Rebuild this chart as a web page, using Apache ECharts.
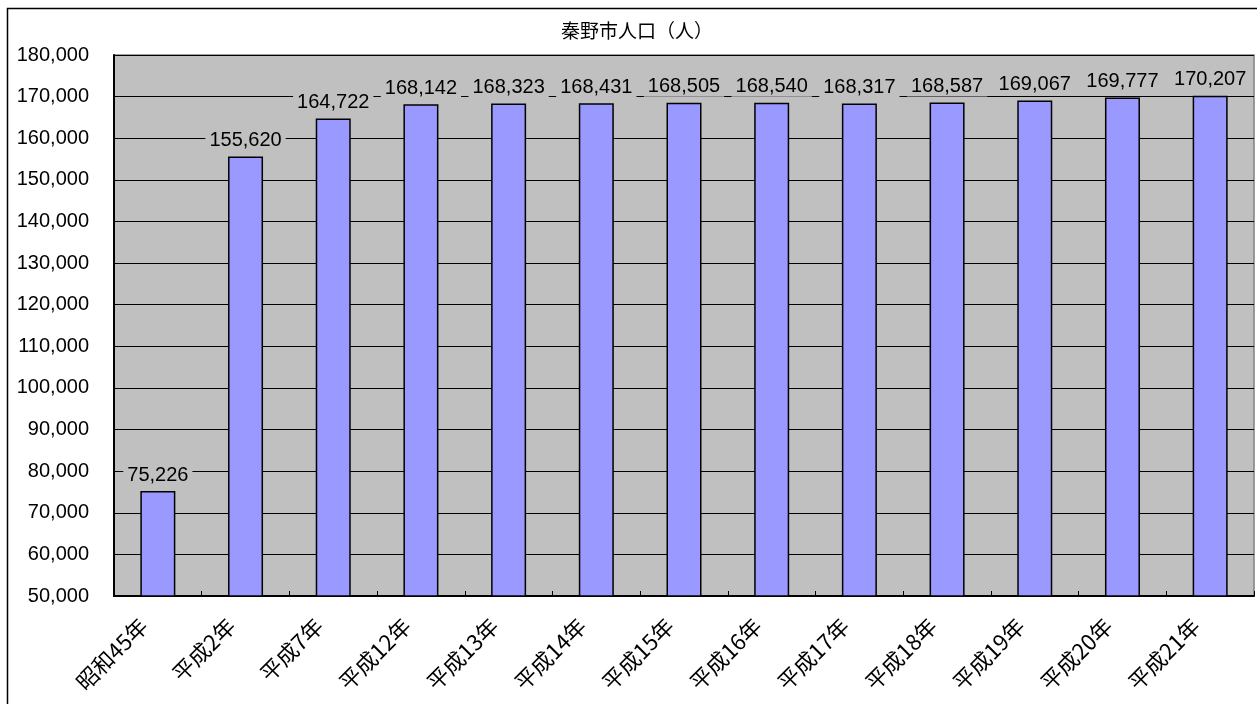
<!DOCTYPE html>
<html>
<head>
<meta charset="utf-8">
<script src="https://cdn.jsdelivr.net/npm/echarts@6/dist/echarts.min.js"></script>
<style>
  html, body { margin: 0; padding: 0; background: #fff; }
  #chart { width: 1257px; height: 704px; }
</style>
</head>
<body>
<div id="chart"></div>
<script>
// 年次
const categories = ['昭和45年', '平成2年', '平成7年', '平成12年', '平成13年', '平成14年', '平成15年',
  '平成16年', '平成17年', '平成18年', '平成19年', '平成20年', '平成21年']
// 人口（人）
const population = [75226, 155620, 164722, 168142, 168323, 168431, 168505,
  168540, 168317, 168587, 169067, 169777, 170207]

const yMin = 50000
const yMax = 180000
const yStep = 10000

const numFont = "'Liberation Sans', 'Noto Sans CJK JP', sans-serif"
const jpFont = "'Noto Sans CJK JP', sans-serif"

const fmt = v => Number(v).toLocaleString('en-US')

const chart = echarts.init(document.getElementById('chart'), null, { renderer: 'canvas' })

const option = {
  animation: false,
  backgroundColor: '#fff',
  title: {
    text: '秦野市人口（人）',
    left: 632,
    textAlign: 'center',
    top: 16,
    textStyle: { fontFamily: jpFont, fontSize: 19, fontWeight: 'normal', color: '#000' }
  },
  graphic: [
    {
      // 外枠
      type: 'rect',
      shape: { x: 7.5, y: 8.5, width: 1300, height: 800 },
      style: { fill: 'none', stroke: '#000', lineWidth: 1.5 },
      z: -1,
      silent: true
    }
  ],
  grid: {
    left: 114,
    top: 55,
    right: 3,
    bottom: 108,
    show: true,
    backgroundColor: '#C0C0C0',
    borderColor: '#808080',
    borderWidth: 1.5
  },
  xAxis: {
    type: 'category',
    data: categories,
    boundaryGap: true,
    axisLine: { show: true, lineStyle: { color: '#000', width: 2 } },
    axisTick: { show: true, inside: true, length: 5, lineStyle: { color: '#000' } },
    axisLabel: {
      rotate: 45,
      margin: 12,
      interval: 0,
      padding: [0, 20, 0, 0],
      fontFamily: jpFont,
      fontSize: 22,
      color: '#000'
    }
  },
  yAxis: {
    type: 'value',
    min: yMin,
    max: yMax,
    interval: yStep,
    axisLine: { show: true, lineStyle: { color: '#000', width: 2 } },
    axisTick: { show: false },
    axisLabel: {
      margin: 25,
      fontFamily: numFont,
      fontSize: 20,
      color: '#000',
      formatter: fmt
    },
    splitLine: { show: true, lineStyle: { color: '#000', width: 1 } }
  },
  series: [
    {
      name: '人口',
      type: 'bar',
      data: population,
      barWidth: 35,
      itemStyle: { color: '#9999FF', borderColor: '#000', borderWidth: 1.5 },
      label: {
        show: true,
        position: 'top',
        distance: 6,
        fontFamily: numFont,
        fontSize: 20,
        color: '#000',
        backgroundColor: '#C0C0C0',
        padding: [0, 4, 0, 4],
        formatter: p => fmt(p.value)
      }
    }
  ]
}

chart.setOption(option)
window.addEventListener('resize', chart.resize)
</script>
</body>
</html>
